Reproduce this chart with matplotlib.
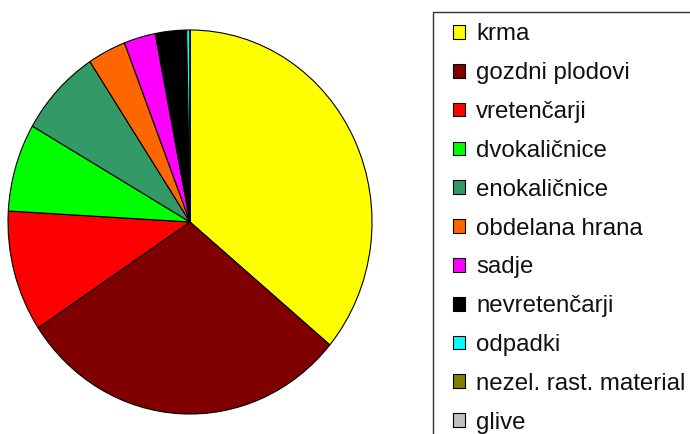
import matplotlib.pyplot as plt
from matplotlib.patches import Rectangle

plt.rcParams['font.family'] = ['Liberation Sans', 'DejaVu Sans']

# deleži (odstotki), odčitani s slike
kategorije = ['krma', 'gozdni plodovi', 'vretenčarji', 'dvokaličnice', 'enokaličnice',
              'obdelana hrana', 'sadje', 'nevretenčarji', 'odpadki',
              'nezel. rast. material', 'glive']
delezi = [36.0, 29.6, 10.2, 7.4, 7.4, 3.4, 2.8, 2.75, 0.3, 0.0, 0.0]
barve = ['#FFFF00', '#800000', '#FF0000', '#00FF00', '#339966', '#FF6600',
         '#FF00FF', '#000000', '#00FFFF', '#808000', '#C0C0C0']

fig = plt.figure(figsize=(6.9, 4.34), dpi=100)
ax = fig.add_axes([8 / 690, 20 / 434, 364 / 690, 384 / 434])

wedges, _ = ax.pie(delezi, colors=barve, startangle=90, counterclock=False,
                   wedgeprops={'edgecolor': 'black', 'linewidth': 0.8})
ax.set_aspect('auto')
ax.set_xlim(-1, 1)
ax.set_ylim(-1, 1)

# okvir legende (sega čez rob slike)
fig.patches.append(Rectangle((433 / 690, -0.1), 0.5, 1.1 - 12 / 434,
                             transform=fig.transFigure, facecolor='white',
                             edgecolor='#333333', linewidth=1.0))

leg = fig.legend(wedges, kategorije, loc='upper left',
                 bbox_to_anchor=(453 / 690, 1 - 23.5 / 434),
                 fontsize=17.3, frameon=False,
                 handlelength=0.5, handleheight=0.5, handletextpad=0.46,
                 labelspacing=0.7, borderpad=0, borderaxespad=0)
for t in leg.get_texts():
    t.set_color('#111111')

fig.savefig('out.png', dpi=100)
